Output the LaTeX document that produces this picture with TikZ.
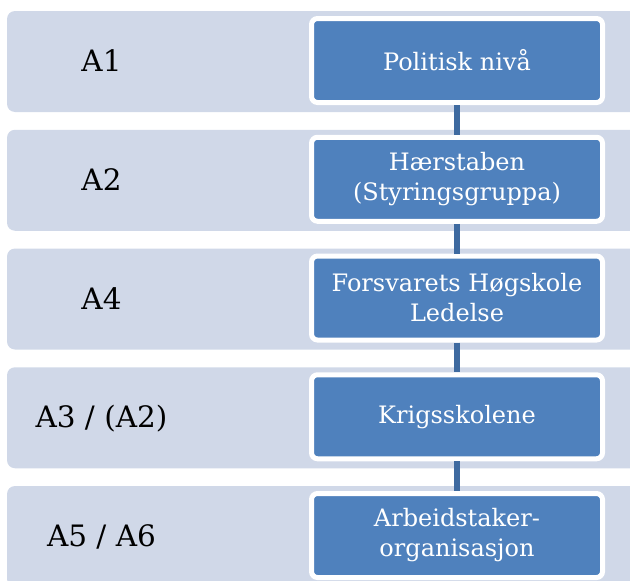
\documentclass[tikz,border=0pt]{standalone}
\usepackage{fontspec}
\setmainfont{DejaVu Serif}
\definecolor{bandcol}{HTML}{D0D8E8}
\definecolor{boxcol}{HTML}{4F81BD}
\definecolor{linecol}{RGB}{62,106,160}
\begin{document}
\begin{tikzpicture}[x=1pt,y=-1pt,
  band/.style={fill=bandcol,rounded corners=8pt},
  orgbox/.style={draw=white,line width=5pt,fill=boxcol,rounded corners=6pt,
    minimum width=291pt,minimum height=84pt,inner sep=0pt,text=white,
    align=center,font=\fontsize{24}{30}\selectfont},
  lvl/.style={anchor=base,font=\fontsize{29.5}{34}\selectfont,text=black},
  conn/.style={draw=linecol,line width=5.5pt}]
\useasboundingbox (0,0) rectangle (630,581);
\clip (0,0) rectangle (630,581);
\foreach \i in {0,...,4}{
  \fill[band] (7,{11+118.75*\i}) rectangle (650,{112+118.75*\i});
}
\node[lvl] (l1) at (101.5,{60.5+11}) {A1};
\node[lvl] (l2) at (101.5,{179.25+11}) {A2};
\node[lvl] (l3) at (101.5,{298+11}) {A4};
\node[lvl] (l4) at (101.5,{416.75+11}) {A3 / (A2)};
\node[lvl] (l5) at (101.5,{535.5+11}) {A5 / A6};
\node[orgbox] (b1) at (457,60.5) {Politisk nivå};
\node[orgbox] (b2) at (457,179.25) {Hærstaben\\(Styringsgruppa)};
\node[orgbox] (b3) at (457,298) {Forsvarets Høgskole\\Ledelse};
\node[orgbox] (b4) at (457,416.75) {Krigsskolene};
\node[orgbox] (b5) at (457,535.5) {Arbeidstaker-\\organisasjon};
\draw[conn] (b1.south) -- (b2.north);
\draw[conn] (b2.south) -- (b3.north);
\draw[conn] (b3.south) -- (b4.north);
\draw[conn] (b4.south) -- (b5.north);
\end{tikzpicture}
\end{document}
